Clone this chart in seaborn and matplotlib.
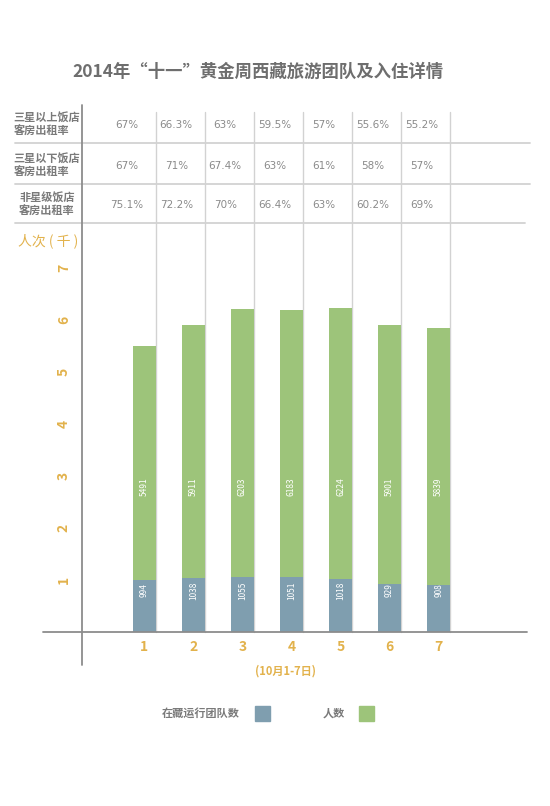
import numpy as np
import pandas as pd
import matplotlib
matplotlib.use("Agg")
import matplotlib.pyplot as plt
import seaborn as sns

# dados do gráfico
days = ["1", "2", "3", "4", "5", "6", "7"]
teams = [994, 1038, 1055, 1051, 1018, 929, 908]          # 在藏运行团队数
people = [5491, 5911, 6203, 6183, 6224, 5901, 5839]      # 人数
row_labels = ["三星以上饭店\n客房出租率", "三星以下饭店\n客房出租率", "非星级饭店\n客房出租率"]
rate_above3 = ["67%", "66.3%", "63%", "59.5%", "57%", "55.6%", "55.2%"]
rate_below3 = ["67%", "71%", "67.4%", "63%", "61%", "58%", "57%"]
rate_nostar = ["75.1%", "72.2%", "70%", "66.4%", "63%", "60.2%", "69%"]

BLUE = "#7f9eaf"
GREEN = "#9dc47a"
GOLD = "#e2b24c"
GRAY_TXT = "#7a7a7a"
LINE = "#d2d2d2"
AXIS = "#8c8c8c"

sns.set_theme(style="white")
plt.rcParams["font.family"] = ["Noto Sans CJK SC", "DejaVu Sans"]

W, H = 550, 806
fig = plt.figure(figsize=(W / 100, H / 100), dpi=100)

# eixo principal em pixels da figura
ax_l, ax_r, ax_b, ax_t = 82, 527, 632, 225
ax = fig.add_axes([ax_l / W, 1 - ax_b / H, (ax_r - ax_l) / W, (ax_b - ax_t) / H])

df = pd.DataFrame({"day": days, "teams": np.array(teams) / 1000, "people": np.array(people) / 1000})

bw = 0.47
sns.barplot(data=df, x="day", y="people", color=GREEN, width=bw, saturation=1, ax=ax,
            linewidth=0, zorder=3)
sns.barplot(data=df, x="day", y="teams", color=BLUE, width=bw, saturation=1, ax=ax,
            linewidth=0, zorder=4)

ax.set_xlim(-1.27, 7.8)
ax.set_ylim(0, (ax_b - ax_t) / 52)
sns.despine(ax=ax, left=True, bottom=True, top=True, right=True)
ax.grid(False)


def py(p):
    # pixel y -> coordenada de eixo
    return (ax_b - p) / (ax_b - ax_t)


def px(p):
    return (p - ax_l) / (ax_r - ax_l)


xt = ax.get_xaxis_transform()
# linhas verticais da grade/tabela
for i in range(len(days)):
    ax.plot([i + bw / 2, i + bw / 2], [0, py(112)], transform=xt, color=LINE, lw=1,
            clip_on=False, zorder=1)
# linhas horizontais da tabela
for yy, x_end in [(143, 530), (184, 530), (223, 525)]:
    ax.plot([px(15), px(x_end)], [py(yy), py(yy)], transform=ax.transAxes, color=LINE,
            lw=1.3, clip_on=False, zorder=1)
# eixos
ax.plot([px(43), 1], [0, 0], transform=ax.transAxes, color=AXIS, lw=1.3, clip_on=False, zorder=5)
ax.plot([0, 0], [py(665), py(105)], transform=ax.transAxes, color=AXIS, lw=1.3, clip_on=False, zorder=5)

# valores nas barras
for i in range(len(days)):
    ax.text(i, 2.8, str(people[i]), rotation=90, ha="center", va="center", color="white",
            fontsize=6, zorder=6)
    ax.text(i, 0.8, str(teams[i]), rotation=90, ha="center", va="center", color="white",
            fontsize=6, zorder=6)

# tabela de taxas
row_y = [125, 166, 205]
for rates, yy in zip([rate_above3, rate_below3, rate_nostar], row_y):
    for i, r in enumerate(rates):
        ax.text(i - 0.35, py(yy), r, transform=xt, ha="center", va="center", color="#8a8a8a",
                fontsize=7.5, family=["DejaVu Sans"])
for j, (lab, yy) in enumerate(zip(row_labels, row_y)):
    fig.text(47 / W, 1 - yy / H, lab, ha="center", va="center", color=GRAY_TXT, fontsize=8,
             fontweight="bold", linespacing=1.05, multialignment="center" if j == 2 else "left")

# ticks
ax.set_yticks(range(1, 8))
ax.set_yticklabels([str(v) for v in range(1, 8)], rotation=90, va="center")
ax.tick_params(axis="y", length=0, pad=8, labelsize=10, labelcolor=GOLD)
ax.tick_params(axis="x", length=0, pad=6, labelsize=10, labelcolor=GOLD)
for lab in ax.get_xticklabels() + ax.get_yticklabels():
    lab.set_fontweight("bold")
ax.set_xlabel("")
ax.set_ylabel("")

fig.text(48 / W, 1 - 241 / H, "人次 ( 千 )", ha="center", va="center", color=GOLD, fontsize=10)
fig.text(285 / W, 1 - 671 / H, "(10月1-7日)", ha="center", va="center", color=GOLD, fontsize=8,
         fontweight="bold")

# título
fig.text(258 / W, 1 - 72 / H, "2014年“十一”黄金周西藏旅游团队及入住详情", ha="center", va="center",
         color="#6e6e6e", fontsize=12.5, fontweight="bold")

# legenda
fig.text(240 / W, 1 - 713 / H, "在藏运行团队数", ha="right", va="center", color=GRAY_TXT,
         fontsize=8, fontweight="bold")
fig.patches.append(plt.Rectangle((255 / W, 1 - 721 / H), 15 / W, 15 / H, color=BLUE,
                                 transform=fig.transFigure, figure=fig))
fig.text(345 / W, 1 - 713 / H, "人数", ha="right", va="center", color=GRAY_TXT,
         fontsize=8, fontweight="bold")
fig.patches.append(plt.Rectangle((359 / W, 1 - 721 / H), 15 / W, 15 / H, color=GREEN,
                                 transform=fig.transFigure, figure=fig))

fig.savefig("out.png", dpi=100, facecolor="white")
